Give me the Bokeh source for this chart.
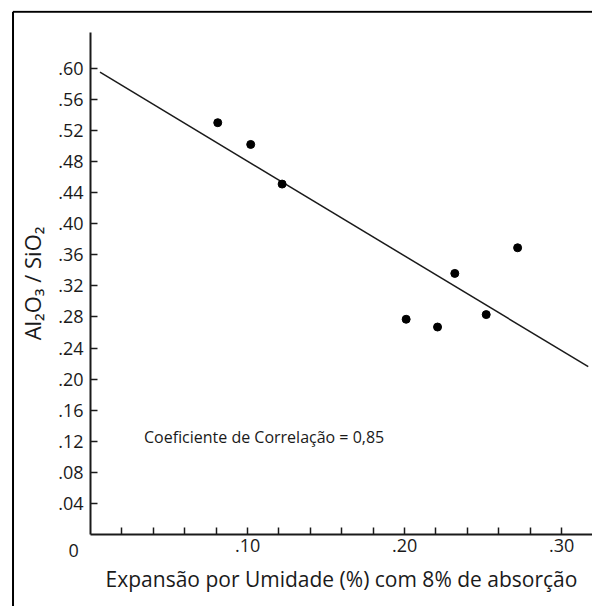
from bokeh.plotting import figure
from bokeh.models import Range1d, FixedTicker, Label
from bokeh.embed import file_html
from bokeh.resources import INLINE

# Data
x_pts = [0.081, 0.102, 0.122, 0.201, 0.221, 0.232, 0.252, 0.272]
y_pts = [0.530, 0.502, 0.451, 0.277, 0.267, 0.336, 0.283, 0.369]

# fitted trend line end points
line_x = [0.006, 0.317]
line_y = [0.595, 0.216]

x_major = [0.10, 0.20, 0.30]
x_major_labels = [".10", ".20", ".30"]
x_minor = [0.02, 0.04, 0.06, 0.08, 0.12, 0.14, 0.16, 0.18,
           0.22, 0.24, 0.26, 0.28]

y_major = [0.04, 0.08, 0.12, 0.16, 0.20, 0.24, 0.28, 0.32,
           0.36, 0.40, 0.44, 0.48, 0.52, 0.56, 0.60]
y_major_labels = [".04", ".08", ".12", ".16", ".20", ".24", ".28", ".32",
                  ".36", ".40", ".44", ".48", ".52", ".56", ".60"]

x_title = "Expansão por Umidade (%) com 8% de absorção"
y_title = "Al₂O₃ / SiO₂"
note = "Coeficiente de Correlação = 0,85"

FONT = "Open Sans"
INK = "#1a1a1a"

# layout ranges (frame covers the whole panel inside the border)
X0, X1 = -0.0510, 0.3197
Y0, Y1 = -0.0927, 0.6744
Y_AXIS_TOP = 0.6463

p = figure(width=592, height=606, output_backend="svg", toolbar_location=None,
           x_range=Range1d(X0, X1), y_range=Range1d(Y0, Y1),
           min_border_left=10, min_border_top=10, min_border_bottom=0,
           min_border_right=0)
p.grid.visible = False
p.outline_line_color = None
p.background_fill_color = "white"
p.border_fill_color = "white"

for ax in (p.xaxis[0], p.yaxis[0]):
    ax.fixed_location = 0
    ax.axis_line_width = 2
    ax.axis_line_color = INK
    ax.major_tick_line_color = INK
    ax.major_tick_line_width = 1.5
    ax.minor_tick_line_color = INK
    ax.minor_tick_line_width = 1.5
    ax.major_tick_in = 7
    ax.major_tick_out = 0
    ax.minor_tick_in = 7
    ax.minor_tick_out = 0
    ax.major_label_text_font = FONT
    ax.major_label_text_font_size = "18px"
    ax.major_label_text_color = INK
    ax.axis_label_text_font = FONT
    ax.axis_label_text_font_style = "normal"
    ax.axis_label_text_color = INK

p.xaxis.ticker = FixedTicker(ticks=x_major, minor_ticks=x_minor)
p.xaxis.major_label_overrides = dict(zip(x_major, x_major_labels))
p.xaxis.major_label_standoff = 5
p.xaxis.axis_label = x_title
p.xaxis.axis_label_text_font_size = "21px"
p.xaxis.axis_label_standoff = 9
p.xaxis.bounds = (0, X1)

p.yaxis.ticker = FixedTicker(ticks=y_major, minor_ticks=[])
p.yaxis.major_label_overrides = dict(zip(y_major, y_major_labels))
p.yaxis.major_label_standoff = 7
p.yaxis.axis_label = y_title
p.yaxis.axis_label_text_font_size = "22px"
p.yaxis.axis_label_standoff = 8
p.yaxis.bounds = (0, Y_AXIS_TOP)

p.line(line_x, line_y, line_width=1.5, color=INK)
p.scatter(x_pts, y_pts, size=8, color="black")

p.add_layout(Label(x=0, y=0, x_offset=-17, y_offset=-16, text="0",
                   text_font=FONT, text_font_size="18px", text_color=INK,
                   text_align="center", text_baseline="middle"))
p.add_layout(Label(x=0.034, y=0.125, text=note, text_font=FONT,
                   text_font_size="16px", text_color=INK,
                   text_align="left", text_baseline="middle"))

# border of the figure panel: top and left edges only
bx = X0 + 0.0016
by = Y1 - 0.0016
p.segment(x0=[bx, bx], y0=[Y0, by], x1=[bx, X1], y1=[by, by],
          line_color="black", line_width=2)

open("out.html", "w").write(file_html(p, INLINE))
